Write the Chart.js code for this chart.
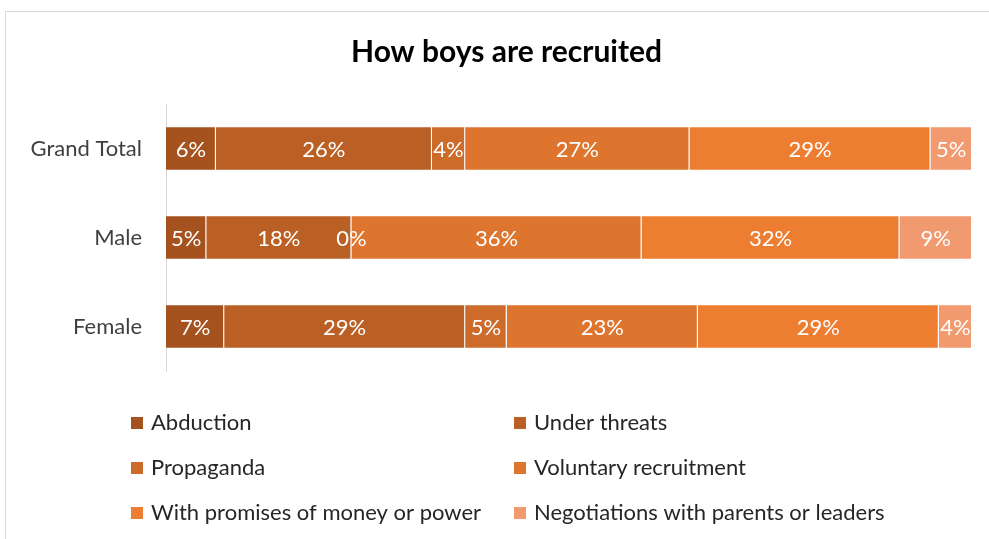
<!DOCTYPE html>
<html>
<head>
<meta charset="utf-8">
<script src="https://cdn.jsdelivr.net/npm/chart.js@4.4.0/dist/chart.umd.min.js"></script>
<style>
  html, body { margin: 0; padding: 0; background: #fff; overflow: hidden; }
  #wrap { position: absolute; left: 5px; top: 11px; width: 1002px; height: 528px;
          border-left: 1px solid #d9d9d9; border-top: 1px solid #d9d9d9; box-sizing: border-box; }
</style>
</head>
<body>
<div id="wrap"><canvas id="chart"></canvas></div>
<script>
// Categorias e percentuais (como aparecem nos rótulos)
const categories = ["Grand Total", "Male", "Female"];
const seriesNames = [
  "Abduction",
  "Under threats",
  "Propaganda",
  "Voluntary recruitment",
  "With promises of money or power",
  "Negotiations with parents or leaders"
];
const abduction = [6, 5, 7];
const underThreats = [26, 18, 29];
const propaganda = [4, 0, 5];
const voluntary = [27, 36, 23];
const promises = [29, 32, 29];
const negotiations = [5, 9, 4];
const colors = ["#A5521F", "#BB6024", "#CD6B2B", "#DE752F", "#ED7D31", "#F1996F"];
const chartTitle = "How boys are recruited";

const series = [abduction, underThreats, propaganda, voluntary, promises, negotiations];

// 100% empilhado: normaliza cada linha
const rowTotals = categories.map((c, i) => series.reduce((s, arr) => s + arr[i], 0));

const font = "Lato, 'Open Sans', sans-serif";

// Título centrado na largura total do gráfico
const centerTitle = {
  id: "centerTitle",
  afterDraw(chart) {
    const ctx = chart.ctx;
    ctx.save();
    ctx.fillStyle = "#000";
    ctx.font = "bold 30px " + font;
    ctx.textAlign = "center";
    ctx.textBaseline = "middle";
    ctx.fillText(chartTitle, chart.width / 2, 40);
    ctx.restore();
  }
};

// Rótulos dentro das barras
const barLabels = {
  id: "barLabels",
  afterDatasetsDraw(chart) {
    const ctx = chart.ctx;
    ctx.save();
    ctx.fillStyle = "#fff";
    ctx.font = "22px " + font;
    ctx.textAlign = "center";
    ctx.textBaseline = "middle";
    chart.data.datasets.forEach((ds, di) => {
      chart.getDatasetMeta(di).data.forEach((bar, i) => {
        const x = (bar.x + bar.base) / 2;
        ctx.fillText(series[di][i] + "%", x, bar.y + 1);
      });
    });
    ctx.restore();
  }
};

// Legenda em duas colunas
const twoColLegend = {
  id: "twoColLegend",
  afterDraw(chart) {
    const ctx = chart.ctx;
    const colX = [125, 508];
    const rowY = [411, 456, 501];
    ctx.save();
    ctx.font = "22px " + font;
    ctx.textBaseline = "middle";
    ctx.textAlign = "left";
    chart.data.datasets.forEach((ds, i) => {
      const x = colX[i % 2];
      const y = rowY[Math.floor(i / 2)];
      ctx.fillStyle = ds.backgroundColor;
      ctx.fillRect(x, y - 6, 12, 12);
      ctx.fillStyle = "#262626";
      ctx.fillText(ds.label, x + 20, y);
    });
    ctx.restore();
  }
};

const ctx = document.getElementById("chart").getContext("2d");
new Chart(ctx, {
  type: "bar",
  data: {
    labels: categories,
    datasets: series.map((arr, di) => ({
      label: seriesNames[di],
      data: arr.map((v, i) => v / rowTotals[i] * 100),
      backgroundColor: colors[di],
      borderColor: "rgba(255,255,255,0.18)",
      borderWidth: 1,
      categoryPercentage: 0.5,
      barPercentage: 1
    }))
  },
  options: {
    indexAxis: "y",
    responsive: true,
    maintainAspectRatio: false,
    animation: false,
    layout: { padding: { left: 0, right: 35, top: 92, bottom: 168 } },
    scales: {
      x: { stacked: true, display: false, min: 0, max: 100 },
      y: {
        stacked: true,
        grid: { display: false, drawTicks: false },
        border: { display: true, color: "#d9d9d9", width: 1 },
        ticks: { color: "#404040", font: { size: 22, family: font }, padding: 24 },
        afterFit(scale) { scale.width = 160; }
      }
    },
    plugins: {
      legend: { display: false },
      tooltip: { enabled: false },
      title: { display: false }
    }
  },
  plugins: [centerTitle, barLabels, twoColLegend]
});
</script>
</body>
</html>
